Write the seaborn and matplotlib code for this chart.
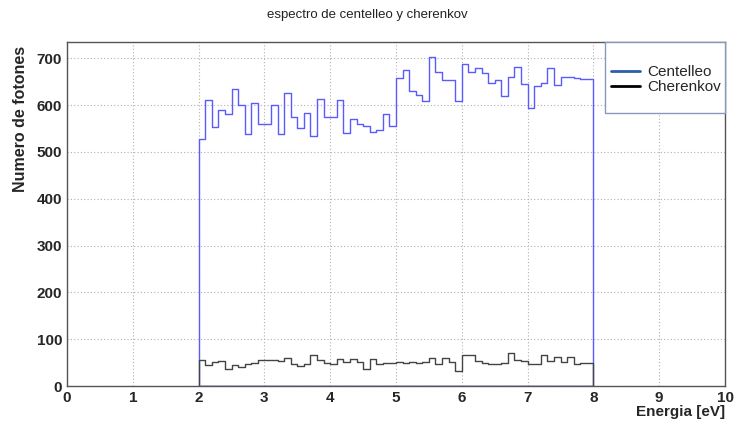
import numpy as np
import pandas as pd
import matplotlib
matplotlib.use("Agg")
import matplotlib.pyplot as plt
from matplotlib.lines import Line2D
from matplotlib.patches import Rectangle
from matplotlib.ticker import MultipleLocator
import seaborn as sns

# bin layout (width 0.1 eV from 2 to 8 eV)
bin_lo = 2.0
bin_hi = 8.0
n_bins = 60

centelleo = [527, 610, 553, 590, 581, 634, 600, 538, 604, 560,
             560, 600, 538, 627, 575, 551, 584, 534, 613, 575,
             575, 610, 540, 571, 560, 556, 543, 547, 581, 556,
             657, 675, 631, 622, 609, 702, 670, 654, 654, 609,
             687, 670, 679, 668, 648, 654, 620, 660, 681, 645,
             595, 640, 648, 679, 643, 661, 661, 657, 656, 656]

cherenkov = [56, 45, 52, 53, 37, 45, 41, 48, 50, 55,
             55, 55, 54, 59, 48, 42, 47, 66, 55, 50,
             48, 58, 51, 58, 52, 36, 58, 48, 49, 50,
             52, 50, 52, 50, 52, 59, 48, 59, 52, 33,
             66, 66, 54, 50, 48, 48, 50, 71, 56, 53,
             47, 48, 66, 54, 61, 52, 63, 48, 49, 50]

title = "espectro de centelleo y cherenkov"
xlabel = "Energia [eV]"
ylabel = "Numero de fotones"
legend_labels = ["Centelleo", "Cherenkov"]

edges = np.linspace(bin_lo, bin_hi, n_bins + 1)
centers = (edges[:-1] + edges[1:]) / 2
df = pd.DataFrame({
    "energia": np.concatenate([centers, centers]),
    "n": np.concatenate([centelleo, cherenkov]),
    "serie": [legend_labels[0]] * n_bins + [legend_labels[1]] * n_bins,
})

sns.set_style("white")
plt.rcParams["font.family"] = ["Liberation Sans", "DejaVu Sans"]

fig = plt.figure(figsize=(7.35, 4.22), dpi=100)
ax = fig.add_axes([0.0912, 0.0853, 0.8952, 0.8152])

hist_colors = {"Centelleo": "#5a5aff", "Cherenkov": "#444444"}
for name in legend_labels:
    sub = df[df["serie"] == name]
    sns.histplot(data=sub, x="energia", weights="n", bins=n_bins,
                 binrange=(bin_lo, bin_hi), element="step", fill=True,
                 facecolor=(0, 0, 0, 0), edgecolor=hist_colors[name],
                 linewidth=1.0, ax=ax)

ax.set_xlim(0, 10)
ax.set_ylim(0, 735)
ax.xaxis.set_major_locator(MultipleLocator(1))
ax.xaxis.set_minor_locator(MultipleLocator(0.2))
ax.yaxis.set_major_locator(MultipleLocator(100))
ax.yaxis.set_minor_locator(MultipleLocator(20))
ax.tick_params(which="major", direction="in", length=8, width=0.8,
               labelsize=11, color="#333333")
ax.tick_params(which="minor", direction="in", length=4, width=0.8,
               color="#333333")
for lab in ax.get_xticklabels() + ax.get_yticklabels():
    lab.set_fontweight("bold")
ax.grid(True, which="major", linestyle=(0, (1, 2)), color="#b0b0b0",
        linewidth=0.8)
for s in ax.spines.values():
    s.set_color("#555555")
    s.set_linewidth(1.0)

ax.set_xlabel(xlabel, loc="right", fontsize=11, fontweight="bold")
ax.set_ylabel(ylabel, loc="top", fontsize=11.5, fontweight="bold")
ax.xaxis.set_label_coords(1.0, -0.055)
ax.yaxis.set_label_coords(-0.06, 0.99)

fig.text(0.5, 0.965, title, ha="center", va="center", fontsize=9.5,
         color="#222222")

# legend box
ax.add_patch(Rectangle((0.818, 0.794), 0.182, 0.206, transform=ax.transAxes,
                       facecolor="white", edgecolor="#8899bb", linewidth=1.0,
                       zorder=4, clip_on=False))
handles = [Line2D([], [], color="#2a5fa8", linewidth=2),
           Line2D([], [], color="black", linewidth=2)]
leg = ax.legend(handles, legend_labels, loc="center left",
                bbox_to_anchor=(0.818, 0.891), frameon=False,
                fontsize=11, handlelength=1.9, handletextpad=0.45,
                borderpad=0.0, labelspacing=0.05, borderaxespad=0.4)
leg.set_zorder(5)

fig.savefig("out.png", dpi=100)
